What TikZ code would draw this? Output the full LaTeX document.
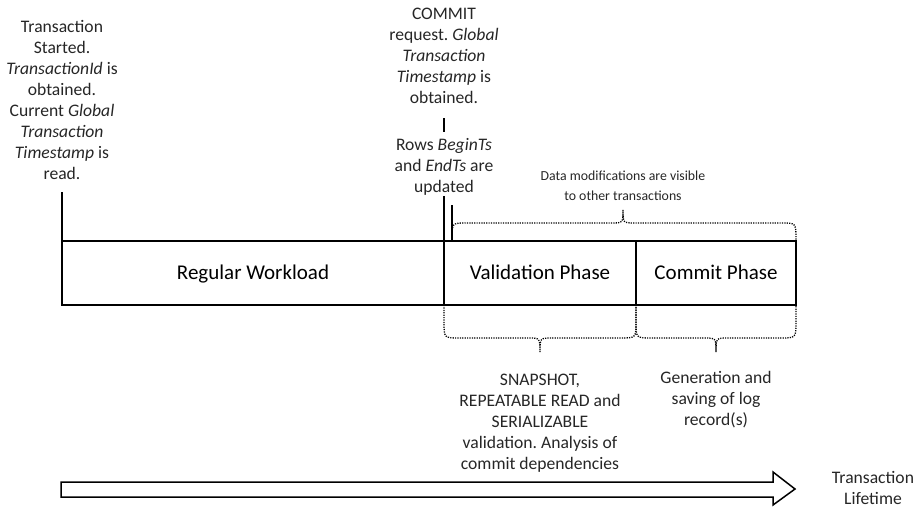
\documentclass[tikz,border=0pt]{standalone}
\usepackage{fontspec}
\setmainfont{Carlito}
\usetikzlibrary{positioning}
\frenchspacing

\begin{document}
\begin{tikzpicture}[x=0.5pt, y=-0.5pt,
    phase/.style={draw, line width=1pt, outer sep=0pt, inner sep=0pt, minimum height=32pt, text height=6.5pt, text depth=0pt, font=\fontsize{10.5}{12}\selectfont},
    note/.style={align=center, inner sep=0pt, text=black!85, font=\fontsize{8.8}{10.5}\selectfont},
    smallnote/.style={align=center, inner sep=0pt, text=black!85, font=\fontsize{6.9}{10}\selectfont},
    dotbrace/.style={line width=0.65pt, dash pattern=on 0.6pt off 0.6pt},
    link/.style={line width=0.75pt}]
    \useasboundingbox (0,0) rectangle (921,508);

    % Phases of the transaction
    \node[phase, minimum width=191pt] (work) at (253,273) {Regular Workload};
    \node[phase, minimum width=96pt, right=0pt of work] (valid) {Validation Phase};
    \node[phase, minimum width=80pt, right=0pt of valid] (commit) {Commit Phase};

    % Events above the timeline
    \node[note] (start) at (62,100) {Transaction\\ Started.\\ \textit{TransactionId} is\\ obtained.\\ Current \textit{Global}\\ \textit{Transaction}\\ \textit{Timestamp} is\\ read.};
    \node[note] (req) at (444,56) {COMMIT\\ request. \textit{Global}\\ \textit{Transaction}\\ \textit{Timestamp} is\\ obtained.};
    \node[note] (rows) at (444,167) {Rows \textit{BeginTs}\\ and \textit{EndTs} are\\ updated};
    \node[smallnote] (visible) at (623,186) {Data modifications are visible\\ to other transactions};

    \draw[link, shorten <=6pt] (start.south) -- (work.north west);
    \draw[link, shorten <=7pt, shorten >=3pt] (req.south) -- (rows.north);
    \draw[link] (rows.south) -- (work.north east);

    % Visibility brace
    \coordinate (vis) at (452,240);
    \coordinate (vistop) at (452,205);
    \draw[link] (vistop) -- (vis);
    \draw[dotbrace] (vis) .. controls (452,223) .. (466,223) -- (611,223)
        .. controls (623,223) .. (623,210) .. controls (623,223) .. (635,223)
        -- (782,223) .. controls (796,223) .. (796,240);

    % Braces below the phases
    \foreach \a/\m/\b in {444/540/636, 636/716/796} {
        \draw[dotbrace] (\a,305) -- (\a,322) .. controls (\a,338) .. ({\a+16},338) -- ({\m-12},338)
            .. controls (\m,338) .. (\m,352) .. controls (\m,338) .. ({\m+12},338)
            -- ({\b-16},338) .. controls (\b,338) .. (\b,322) -- (\b,305);
    }
    \node[note] (checks) at (540,423) {SNAPSHOT,\\ REPEATABLE READ and\\ SERIALIZABLE\\ validation. Analysis of\\ commit dependencies};
    \node[note] (logging) at (716,400) {Generation and\\ saving of log\\ record(s)};

    % Lifetime arrow
    \draw[link] (61,482) -- (773,482) -- (773,472) -- (795,489) -- (773,505) -- (773,497) -- (61,497) -- cycle;
    \node[note] (life) at (873,488) {Transaction\\ Lifetime};
\end{tikzpicture}
\end{document}
